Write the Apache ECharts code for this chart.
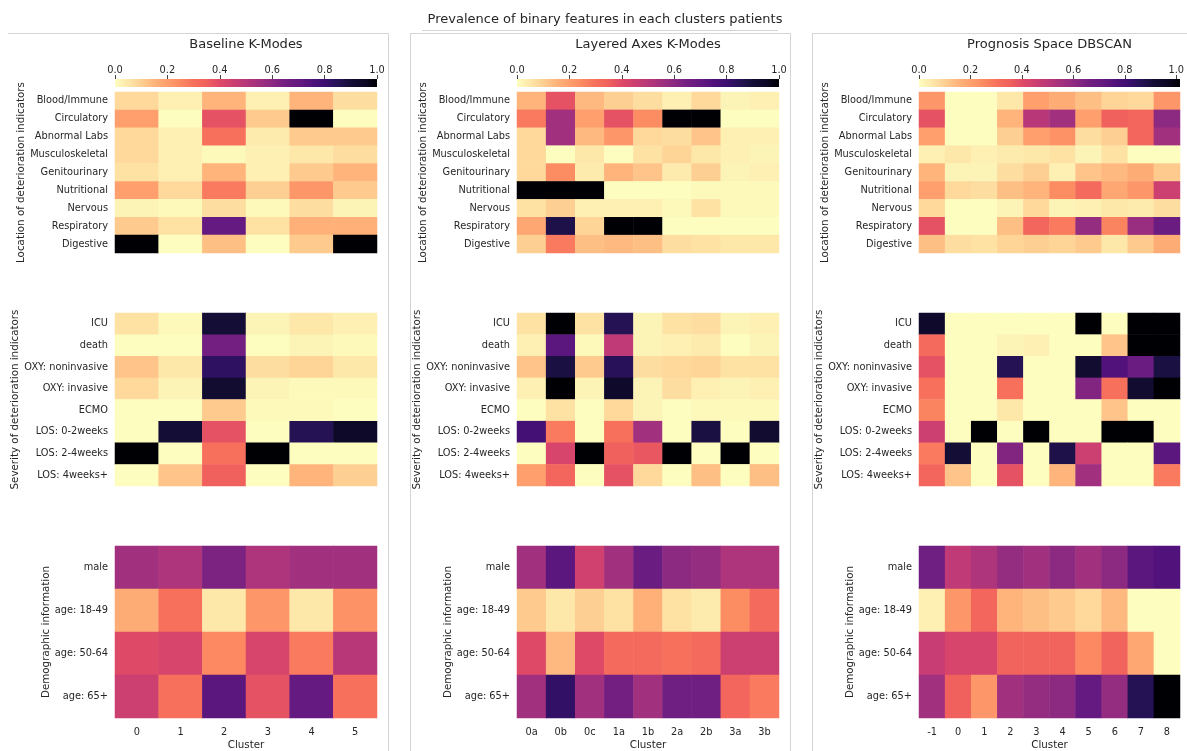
<!DOCTYPE html>
<html>
<head>
<meta charset="utf-8">
<script src="https://cdn.jsdelivr.net/npm/echarts@6/dist/echarts.min.js"></script>
<style>html,body{margin:0;padding:0;background:#fff}#c{width:1187px;height:751px}</style>
</head>
<body>
<div id="c"></div>
<script>
// ---------- categories ----------
const clustersBaseline = ['0','1','2','3','4','5'];
const clustersLayered = ['0a','0b','0c','1a','1b','2a','2b','3a','3b'];
const clustersPrognosis = ['-1','0','1','2','3','4','5','6','7','8'];
const locationRows = ['Blood/Immune','Circulatory','Abnormal Labs','Musculoskeletal','Genitourinary','Nutritional','Nervous','Respiratory','Digestive'];
const severityRows = ['ICU','death','OXY: noninvasive','OXY: invasive','ECMO','LOS: 0-2weeks','LOS: 2-4weeks','LOS: 4weeks+'];
const demographicRows = ['male','age: 18-49','age: 50-64','age: 65+'];
const colorbarTicks = [0, 0.2, 0.4, 0.6, 0.8, 1.0];

// ---------- values (rows x clusters) ----------
const baselineLocation = [
  [0.08,0.03,0.15,0.03,0.15,0.07],
  [0.20,0.00,0.38,0.11,1.00,0.00],
  [0.08,0.03,0.30,0.04,0.11,0.11],
  [0.08,0.03,0.01,0.03,0.05,0.07],
  [0.06,0.03,0.15,0.03,0.11,0.15],
  [0.20,0.08,0.28,0.10,0.22,0.11],
  [0.02,0.01,0.07,0.01,0.07,0.02],
  [0.11,0.06,0.70,0.06,0.16,0.16],
  [1.00,0.00,0.13,0.00,0.11,1.00]
];
const baselineSeverity = [
  [0.06,0.01,0.90,0.02,0.05,0.03],
  [0.00,0.00,0.65,0.00,0.02,0.01],
  [0.12,0.05,0.83,0.07,0.09,0.05],
  [0.08,0.02,0.92,0.02,0.01,0.01],
  [0.00,0.00,0.11,0.01,0.01,0.00],
  [0.00,0.90,0.38,0.00,0.85,0.94],
  [1.00,0.00,0.30,1.00,0.00,0.00],
  [0.00,0.12,0.35,0.00,0.15,0.10]
];
const baselineDemographic = [
  [0.55,0.52,0.63,0.52,0.55,0.55],
  [0.17,0.30,0.05,0.22,0.05,0.23],
  [0.40,0.42,0.25,0.42,0.28,0.50],
  [0.45,0.30,0.72,0.38,0.70,0.30]
];
const layeredLocation = [
  [0.15,0.38,0.14,0.10,0.07,0.03,0.08,0.02,0.03],
  [0.28,0.55,0.20,0.38,0.24,1.00,1.00,0.00,0.00],
  [0.08,0.55,0.14,0.22,0.08,0.07,0.12,0.03,0.03],
  [0.08,0.00,0.05,0.00,0.06,0.09,0.05,0.03,0.02],
  [0.08,0.24,0.04,0.15,0.12,0.04,0.10,0.02,0.03],
  [1.00,1.00,1.00,0.00,0.00,0.00,0.01,0.01,0.01],
  [0.06,0.10,0.03,0.03,0.03,0.01,0.06,0.01,0.01],
  [0.18,0.87,0.09,1.00,1.00,0.00,0.00,0.00,0.00],
  [0.10,0.28,0.13,0.14,0.13,0.07,0.06,0.05,0.05]
];
const layeredSeverity = [
  [0.06,1.00,0.06,0.85,0.02,0.06,0.07,0.02,0.03],
  [0.03,0.72,0.01,0.48,0.02,0.03,0.04,0.00,0.02],
  [0.12,0.88,0.11,0.84,0.07,0.08,0.09,0.06,0.06],
  [0.03,1.00,0.02,0.93,0.02,0.07,0.03,0.02,0.03],
  [0.00,0.06,0.00,0.08,0.02,0.00,0.01,0.01,0.01],
  [0.78,0.28,0.00,0.30,0.55,0.00,0.88,0.00,0.92],
  [0.00,0.42,1.00,0.35,0.37,1.00,0.00,1.00,0.00],
  [0.20,0.33,0.00,0.38,0.08,0.00,0.13,0.00,0.13]
];
const layeredDemographic = [
  [0.55,0.72,0.44,0.55,0.68,0.60,0.58,0.52,0.52],
  [0.11,0.05,0.10,0.06,0.16,0.06,0.04,0.24,0.32],
  [0.40,0.14,0.40,0.32,0.32,0.30,0.32,0.45,0.45],
  [0.55,0.82,0.55,0.65,0.55,0.66,0.66,0.33,0.28]
];
const prognosisLocation = [
  [0.22,0.00,0.00,0.05,0.20,0.17,0.13,0.09,0.08,0.22],
  [0.38,0.00,0.00,0.15,0.50,0.55,0.20,0.35,0.33,0.60],
  [0.20,0.00,0.00,0.10,0.20,0.23,0.07,0.10,0.33,0.55],
  [0.03,0.05,0.03,0.04,0.05,0.06,0.02,0.06,0.00,0.00],
  [0.15,0.02,0.02,0.07,0.10,0.03,0.12,0.14,0.17,0.11],
  [0.20,0.08,0.07,0.13,0.15,0.24,0.32,0.18,0.22,0.45],
  [0.08,0.00,0.00,0.02,0.08,0.02,0.03,0.05,0.04,0.07],
  [0.38,0.00,0.00,0.13,0.33,0.28,0.58,0.26,0.57,0.68],
  [0.13,0.07,0.06,0.09,0.10,0.09,0.11,0.05,0.11,0.17]
];
const prognosisSeverity = [
  [0.93,0.00,0.00,0.00,0.00,0.00,1.00,0.00,1.00,1.00],
  [0.32,0.00,0.00,0.02,0.03,0.00,0.00,0.12,1.00,1.00],
  [0.38,0.00,0.00,0.85,0.00,0.00,0.92,0.75,0.68,0.88],
  [0.30,0.00,0.00,0.30,0.00,0.00,0.62,0.30,0.92,1.00],
  [0.26,0.00,0.00,0.05,0.00,0.00,0.00,0.12,0.00,0.00],
  [0.45,0.00,1.00,0.00,1.00,0.00,0.00,1.00,1.00,0.00],
  [0.28,0.90,0.00,0.62,0.00,0.87,0.45,0.00,0.00,0.72],
  [0.33,0.12,0.00,0.38,0.00,0.15,0.55,0.00,0.00,0.28]
];
const prognosisDemographic = [
  [0.66,0.48,0.52,0.58,0.55,0.60,0.55,0.60,0.72,0.75],
  [0.03,0.22,0.33,0.15,0.13,0.11,0.08,0.14,0.00,0.00],
  [0.46,0.42,0.42,0.34,0.34,0.34,0.25,0.34,0.18,0.00],
  [0.55,0.35,0.22,0.55,0.58,0.60,0.70,0.58,0.85,1.00]
];

// ---------- styling ----------
const magmaR = ['#fcfdbf','#fde7a9','#fecf92','#feb47b','#fe9f6d','#fc8961','#f7705c','#f0605d','#de4968','#cc3f71',
  '#b73779','#a1307e','#8c2981','#721f81','#641a80','#51127c','#3b0f70','#251255','#140e36','#0c0826','#000004'];
const FONT = 'DejaVu Sans';
const TXT = '#262626';
const LBL = 9.8, NAME = 10.3;

const panels = [
  {title:'Baseline K-Modes', left:115, width:262, clusters:clustersBaseline, mats:[baselineLocation, baselineSeverity, baselineDemographic]},
  {title:'Layered Axes K-Modes', left:517, width:262, clusters:clustersLayered, mats:[layeredLocation, layeredSeverity, layeredDemographic]},
  {title:'Prognosis Space DBSCAN', left:919, width:261, clusters:clustersPrognosis, mats:[prognosisLocation, prognosisSeverity, prognosisDemographic]}
];
const bands = [
  {top:92, height:161, rows:locationRows, name:'Location of deterioration indicators', gap:82},
  {top:313, height:173, rows:severityRows, name:'Severity of deterioration indicators', gap:82},
  {top:546, height:172, rows:demographicRows, name:'Demographic information', gap:60}
];
const cbTop = 79, cbHeight = 8;

const grid = [], xAxis = [], yAxis = [], series = [], graphic = [];
let gi = 0;
panels.forEach((p, pi) => {
  bands.forEach((b, bi) => {
    grid.push({left:p.left, top:b.top, width:p.width, height:b.height});
    xAxis.push({type:'category', gridIndex:gi, data:p.clusters, position:'bottom',
      axisLine:{show:false}, axisTick:{show:false}, splitLine:{show:false},
      axisLabel:{show:bi===2, color:TXT, fontFamily:FONT, fontSize:LBL, margin:9},
      name: bi===2 ? 'Cluster' : '', nameLocation:'middle', nameGap:22,
      nameTextStyle:{color:TXT, fontFamily:FONT, fontSize:NAME}});
    yAxis.push({type:'category', gridIndex:gi, data:b.rows, inverse:true,
      axisLine:{show:false}, axisTick:{show:false}, splitLine:{show:false},
      axisLabel:{color:TXT, fontFamily:FONT, fontSize:LBL, margin:7},
      name:b.name, nameLocation:'middle', nameRotate:90, nameGap:b.gap,
      nameTextStyle:{color:TXT, fontFamily:FONT, fontSize:NAME}});
    const data = [];
    p.mats[bi].forEach((row, r) => row.forEach((v, c) => data.push([c, r, v])));
    series.push({type:'heatmap', xAxisIndex:gi, yAxisIndex:gi, data:data,
      emphasis:{disabled:true}, itemStyle:{borderWidth:0}, progressive:0, animation:false});
    gi++;
  });
});
// colorbar axes
panels.forEach((p, pi) => {
  grid.push({left:p.left, top:cbTop, width:p.width, height:cbHeight});
  xAxis.push({type:'value', gridIndex:gi, min:colorbarTicks[0], max:colorbarTicks[colorbarTicks.length-1], interval:0.2, position:'top',
    axisLine:{show:false}, splitLine:{show:false},
    axisTick:{show:true, length:4, lineStyle:{color:'#444'}},
    axisLabel:{color:TXT, fontFamily:FONT, fontSize:LBL, margin:4, formatter:v => v.toFixed(1)}});
  yAxis.push({type:'category', gridIndex:gi, data:[''], show:false});
  const stops = magmaR.map((c, i) => ({offset:i/(magmaR.length-1), color:c}));
  graphic.push({type:'rect', shape:{x:p.left, y:cbTop, width:p.width, height:cbHeight},
    style:{fill:new echarts.graphic.LinearGradient(0,0,1,0,stops)}, z:1});
  graphic.push({type:'text', x:p.left + p.width/2, y:45,
    style:{text:p.title, fill:TXT, font:'13px "DejaVu Sans"', textAlign:'center', textVerticalAlign:'middle'}});
  gi++;
});
// panel frames
const frame = {stroke:'#d4d4d4', lineWidth:1, fill:null};
graphic.push({type:'polyline', shape:{points:[[8,33.5],[388.5,33.5],[388.5,760]]}, style:frame});
graphic.push({type:'rect', shape:{x:410.5, y:33.5, width:380, height:740}, style:frame});
graphic.push({type:'rect', shape:{x:812.5, y:33.5, width:400, height:740}, style:frame});
graphic.push({type:'line', shape:{x1:422, y1:30.5, x2:778, y2:30.5}, style:{stroke:'#d4d4d4', lineWidth:1}});

const chart = echarts.init(document.getElementById('c'), null, {renderer:'canvas'});
chart.setOption({
  backgroundColor:'#fff',
  animation:false,
  title:{text:'Prevalence of binary features in each clusters patients', left:600, top:8, textAlign:'center',
    textStyle:{color:TXT, fontFamily:FONT, fontSize:13, fontWeight:'normal'}},
  grid, xAxis, yAxis, series, graphic,
  visualMap:{type:'continuous', min:0, max:1, show:false, seriesIndex:series.map((s,i)=>i),
    inRange:{color:magmaR}}
});
</script>
</body>
</html>
